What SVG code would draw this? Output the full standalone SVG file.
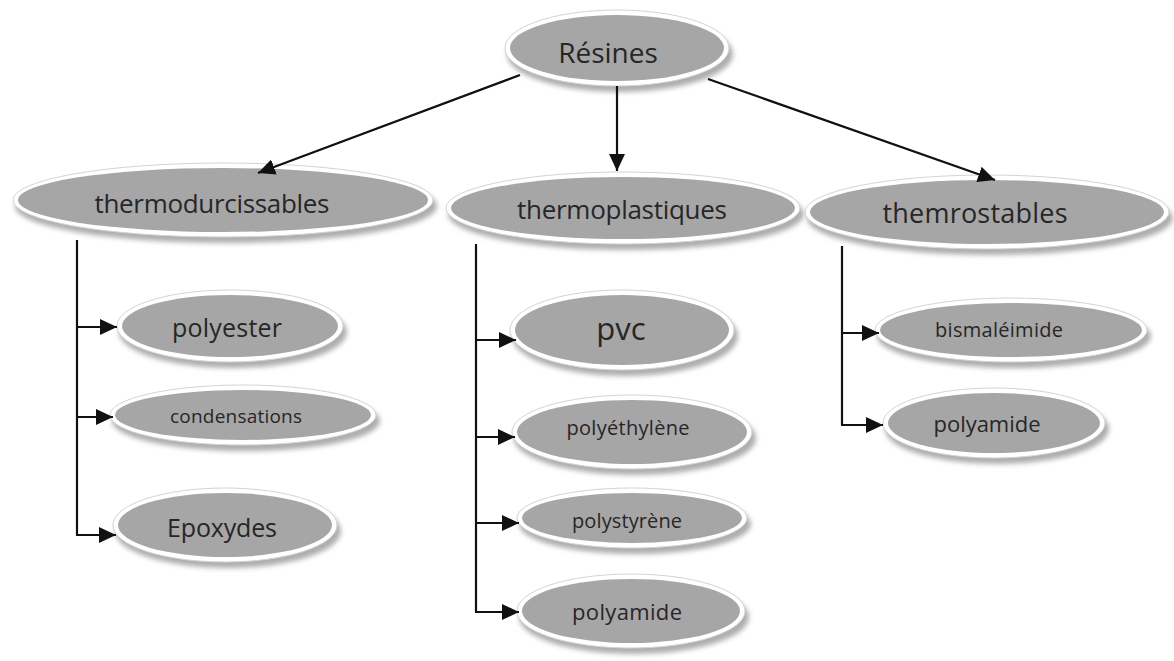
<svg xmlns="http://www.w3.org/2000/svg" width="1174" height="661" viewBox="0 0 1174 661">
<style>
.sh{fill:#adadad;filter:url(#blur)}
.rim{fill:#ffffff;stroke:#d4d4d4;stroke-width:1}
.core{fill:#a6a6a6}
.t{font-family:"Open Sans","Liberation Sans",sans-serif;fill:#262626;text-anchor:middle}
.c{stroke:#111;stroke-width:2.2;fill:none}
</style>
<defs>
<filter id="blur" x="-10%" y="-30%" width="120%" height="160%"><feGaussianBlur stdDeviation="2.5"/></filter>
<marker id="ah" markerUnits="userSpaceOnUse" markerWidth="18" markerHeight="16" refX="17" refY="8" orient="auto"><path d="M0,0 L17,8 L0,16 z" fill="#111"/></marker>
</defs>
<rect width="1174" height="661" fill="#fff"/>
<g id="n-resines">
<ellipse class="sh" cx="620" cy="54" rx="113" ry="38"/>
<ellipse class="rim" cx="617" cy="48" rx="112" ry="38"/>
<ellipse class="core" cx="617" cy="48" rx="107" ry="33"/>
<text class="t" x="608" y="63" font-size="28">Résines</text>
</g>
<g id="n-thermodurcissables">
<ellipse class="sh" cx="226" cy="206" rx="211" ry="37"/>
<ellipse class="rim" cx="223" cy="200" rx="210" ry="37"/>
<ellipse class="core" cx="223" cy="200" rx="205" ry="32"/>
<text class="t" x="212" y="213" font-size="26" textLength="235">thermodurcissables</text>
</g>
<g id="n-thermoplastiques">
<ellipse class="sh" cx="626" cy="214" rx="178" ry="36"/>
<ellipse class="rim" cx="623" cy="208" rx="177" ry="36"/>
<ellipse class="core" cx="623" cy="208" rx="172" ry="31"/>
<text class="t" x="622" y="219" font-size="26" textLength="210">thermoplastiques</text>
</g>
<g id="n-themrostables">
<ellipse class="sh" cx="990" cy="218" rx="183" ry="37"/>
<ellipse class="rim" cx="987" cy="212" rx="182" ry="37"/>
<ellipse class="core" cx="987" cy="212" rx="177" ry="32"/>
<text class="t" x="975" y="223" font-size="27" textLength="185">themrostables</text>
</g>
<g id="n-polyester">
<ellipse class="sh" cx="233" cy="332" rx="114" ry="36"/>
<ellipse class="rim" cx="230" cy="326" rx="113" ry="36"/>
<ellipse class="core" cx="230" cy="326" rx="108" ry="31"/>
<text class="t" x="227" y="337" font-size="25" textLength="110">polyester</text>
</g>
<g id="n-condensations">
<ellipse class="sh" cx="246" cy="421" rx="134" ry="30"/>
<ellipse class="rim" cx="243" cy="415" rx="133" ry="30"/>
<ellipse class="core" cx="243" cy="415" rx="128" ry="25"/>
<text class="t" x="236" y="423" font-size="19" textLength="132">condensations</text>
</g>
<g id="n-epoxydes">
<ellipse class="sh" cx="228" cy="531" rx="113" ry="37"/>
<ellipse class="rim" cx="225" cy="525" rx="112" ry="37"/>
<ellipse class="core" cx="225" cy="525" rx="107" ry="32"/>
<text class="t" x="222" y="537" font-size="25" textLength="110">Epoxydes</text>
</g>
<g id="n-pvc">
<ellipse class="sh" cx="625" cy="336" rx="113" ry="40"/>
<ellipse class="rim" cx="622" cy="330" rx="112" ry="40"/>
<ellipse class="core" cx="622" cy="330" rx="107" ry="35"/>
<text class="t" x="621" y="340" font-size="31">pvc</text>
</g>
<g id="n-polyethylene">
<ellipse class="sh" cx="635" cy="438" rx="121" ry="37"/>
<ellipse class="rim" cx="632" cy="432" rx="120" ry="37"/>
<ellipse class="core" cx="632" cy="432" rx="115" ry="32"/>
<text class="t" x="628" y="435" font-size="20" textLength="123">polyéthylène</text>
</g>
<g id="n-polystyrene">
<ellipse class="sh" cx="635" cy="524" rx="116" ry="30"/>
<ellipse class="rim" cx="632" cy="518" rx="115" ry="30"/>
<ellipse class="core" cx="632" cy="518" rx="110" ry="25"/>
<text class="t" x="627" y="528" font-size="20" textLength="110">polystyrène</text>
</g>
<g id="n-polyamide-1">
<ellipse class="sh" cx="634" cy="617" rx="115" ry="37"/>
<ellipse class="rim" cx="631" cy="611" rx="114" ry="37"/>
<ellipse class="core" cx="631" cy="611" rx="109" ry="32"/>
<text class="t" x="627" y="620" font-size="22" textLength="110">polyamide</text>
</g>
<g id="n-bismaleimide">
<ellipse class="sh" cx="1014" cy="336" rx="137" ry="32"/>
<ellipse class="rim" cx="1011" cy="330" rx="136" ry="32"/>
<ellipse class="core" cx="1011" cy="330" rx="131" ry="27"/>
<text class="t" x="999" y="337" font-size="20" textLength="128">bismaléimide</text>
</g>
<g id="n-polyamide-2">
<ellipse class="sh" cx="997" cy="429" rx="112" ry="35"/>
<ellipse class="rim" cx="994" cy="423" rx="111" ry="35"/>
<ellipse class="core" cx="994" cy="423" rx="106" ry="30"/>
<text class="t" x="987" y="432" font-size="22" textLength="107">polyamide</text>
</g>
<g id="connectors">
<line class="c" x1="520" y1="75" x2="258" y2="173" marker-end="url(#ah)"/>
<line class="c" x1="617" y1="86" x2="617" y2="171" marker-end="url(#ah)"/>
<line class="c" x1="708" y1="79" x2="995" y2="180" marker-end="url(#ah)"/>
<polyline class="c" points="77,240 77,535"/>
<line class="c" x1="77" y1="327" x2="117" y2="327" marker-end="url(#ah)"/>
<line class="c" x1="77" y1="417" x2="113" y2="417" marker-end="url(#ah)"/>
<line class="c" x1="76" y1="535" x2="116" y2="535" marker-end="url(#ah)"/>
<polyline class="c" points="476,244 476,612"/>
<line class="c" x1="476" y1="340" x2="516" y2="340" marker-end="url(#ah)"/>
<line class="c" x1="476" y1="437" x2="515" y2="437" marker-end="url(#ah)"/>
<line class="c" x1="476" y1="523" x2="519" y2="523" marker-end="url(#ah)"/>
<line class="c" x1="475" y1="612" x2="519" y2="612" marker-end="url(#ah)"/>
<polyline class="c" points="842,246 842,425"/>
<line class="c" x1="842" y1="333" x2="879" y2="333" marker-end="url(#ah)"/>
<line class="c" x1="841" y1="425" x2="883" y2="425" marker-end="url(#ah)"/>
</g>
</svg>
